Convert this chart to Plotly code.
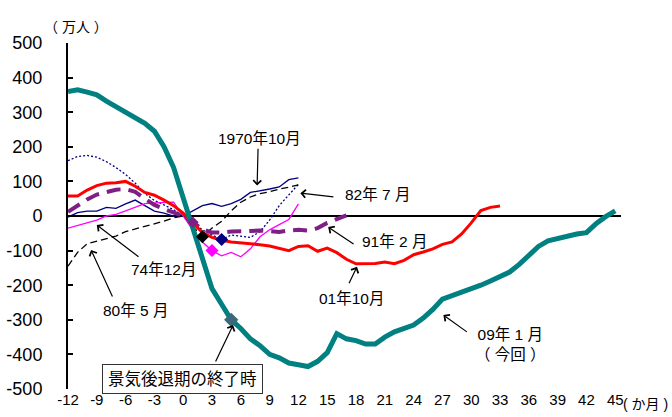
import plotly.graph_objects as go

# months from reference point (-12 .. 45)
month_start = -12

# series values (万人)
s1970_10 = [-3, 10, 14, 14, 25, 22, 35, 46, 30, 14, 8, 0, 0,
            15, 30, 36, 28, 36, 48, 68, 72, 78, 84, 105, 110]
s1974_12 = [-35, -28, -20, -12, 0, 5, 15, 25, 36, 38, 38, 40, 0,
            -40, -75, -100, -115, -105, -118, -95, -60, -40, -25, -10, 35]
s1980_05 = [-145, -105, -80, -72, -65, -58, -45, -38, -30, -22, -15, -5, 0,
            -30, -60, -35, -15, 15, 40, 55, 65, 70, 78, 83, 90]
s1982_07 = [160, 172, 175, 170, 157, 140, 120, 95, 65, 45, 32, 18, 0,
            -20, -40, -55, -68, -55, -58, -62, -45, -12, 30, 60, 92]
s1991_02 = [12, 30, 48, 62, 68, 76, 78, 70, 50, 32, 20, 10, 0,
            -18, -38, -48, -48, -45, -45, -43, -42, -45, -46, -42, -40,
            -42, -35, -20, -8, 2]
s2001_10 = [58, 58, 75, 88, 95, 96, 100, 86, 68, 60, 46, 30, 8,
            -20, -48, -62, -70, -75, -77, -80, -83, -87, -93, -100, -88,
            -86, -102, -93, -106, -125, -138, -138, -137, -133, -138, -128, -112,
            -104, -95, -82, -75, -52, -20, 16, 25, 29]
s2009_01 = [360, 365, 358, 350, 332, 315, 298, 283, 268, 245, 200, 140, 55,
            -40, -120, -210, -255, -300, -325, -355, -375, -400, -410, -425, -430,
            -435, -420, -395, -340, -355, -360, -370, -370, -350, -335, -325, -315,
            -295, -270, -240, -230, -222, -212, -200, -188, -175, -162, -140, -115,
            -88, -72, -65, -58, -52, -48, -22, -2, 15]

# month at which each recession ended (marker)
end_1974 = 3
end_1980 = 2
end_1982 = 4
end_1991 = 1
end_2009 = 5

x_ticks = list(range(-12, 46, 3))
y_ticks = list(range(-500, 501, 100))


def xs(vals):
    return list(range(month_start, month_start + len(vals)))


fig = go.Figure()

fig.add_trace(go.Scatter(x=xs(s1970_10), y=s1970_10, mode="lines",
                         line=dict(color="#000080", width=1.3)))
fig.add_trace(go.Scatter(x=xs(s1982_07), y=s1982_07, mode="lines",
                         line=dict(color="#000080", width=1.3, dash="2px,2px")))
fig.add_trace(go.Scatter(x=xs(s1980_05), y=s1980_05, mode="lines",
                         line=dict(color="black", width=1.3, dash="7px,4px")))
fig.add_trace(go.Scatter(x=xs(s1974_12), y=s1974_12, mode="lines",
                         line=dict(color="#FF00FF", width=1.3)))
fig.add_trace(go.Scatter(x=xs(s1991_02), y=s1991_02, mode="lines",
                         line=dict(color="#7F1F86", width=4, dash="14px,8px")))
fig.add_trace(go.Scatter(x=xs(s2001_10), y=s2001_10, mode="lines",
                         line=dict(color="#FF0000", width=3)))
fig.add_trace(go.Scatter(x=xs(s2009_01), y=s2009_01, mode="lines",
                         line=dict(color="#008080", width=5)))

# end-of-recession markers
for vals, m, col, sz in [(s1991_02, end_1991, "#7F1F86", 9),
                         (s1980_05, end_1980, "black", 10),
                         (s1974_12, end_1974, "#FF00FF", 10),
                         (s1982_07, end_1982, "#000080", 10),
                         (s2009_01, end_2009, "#3A6A7A", 11)]:
    fig.add_trace(go.Scatter(x=[m], y=[vals[m - month_start]], mode="markers",
                             marker=dict(symbol="diamond", color=col, size=sz)))

font_main = "Liberation Sans, Arial, Noto Sans CJK JP"
lab = dict(size=15.5, color="black", family=font_main)

texts = [
    ("1970年10月", 7.9, 225, "center"),
    ("82年 7 月", 16.6, 61, "left"),
    ("91年 2 月", 18.4, -75, "left"),
    ("01年10月", 17.5, -237, "center"),
    ("09年 1 月<br>（ 今回 ）", 34.1, -371, "center"),
    ("74年12月", -2.1, -156, "center"),
    ("80年 5 月", -5.0, -272, "center"),
]
for t, x, y, xa in texts:
    fig.add_annotation(x=x, y=y, text=t, showarrow=False, xanchor=xa,
                       font=lab)

arrows = [
    (7.7, 88, 7.8, 199),
    (12.2, 66, 15.8, 55),
    (15.1, -32, 17.9, -84),
    (18.1, -147, 17.2, -199),
    (27.1, -286, 29.7, -338),
    (-9.0, -26, -4.5, -121),
    (-9.6, -98, -7.3, -237),
    (5.2, -315, 3.3, -425),
]
for x, y, ax, ay in arrows:
    fig.add_annotation(x=x, y=y, ax=ax, ay=ay, axref="x", ayref="y",
                       text="", showarrow=True, arrowhead=4, arrowsize=1.3,
                       arrowwidth=1.2, arrowcolor="black")

fig.add_annotation(x=-0.1, y=-471, text="景気後退期の終了時", showarrow=False,
                   font=dict(size=16.5, color="black", family=font_main),
                   bordercolor="#333333", borderwidth=1, borderpad=5,
                   bgcolor="white")

fig.add_annotation(xref="paper", yref="paper", x=0.0145, y=1.0, yshift=16,
                   yanchor="middle", xanchor="center", text="（ 万人 ）",
                   showarrow=False,
                   font=dict(size=14, color="black", family=font_main))
fig.add_annotation(xref="paper", yref="paper", x=1.0, y=0, yshift=-15,
                   xanchor="left", yanchor="middle", text="( か月 )",
                   showarrow=False,
                   font=dict(size=14, color="black", family=font_main))

fig.update_xaxes(range=[-12, 45.6], tickvals=x_ticks,
                 ticktext=[str(v) for v in x_ticks], showgrid=False,
                 zeroline=False, showline=False, ticks="", automargin=False,
                 tickfont=dict(size=15, color="black", family=font_main))
fig.update_yaxes(range=[-500, 500], tickvals=y_ticks,
                 ticktext=[str(v) for v in y_ticks], showgrid=False,
                 zeroline=True, zerolinecolor="black", zerolinewidth=2,
                 showline=True, linecolor="black", linewidth=2,
                 ticks="inside", ticklen=5, tickwidth=1.5, tickcolor="black",
                 ticklabelstandoff=20, automargin=False,
                 tickfont=dict(size=18, color="black", family=font_main))

fig.update_layout(width=672, height=417, showlegend=False,
                  margin=dict(l=68, r=51, t=43, b=28),
                  plot_bgcolor="white", paper_bgcolor="white")

# remove the browser's default page margin so the chart sits at (0, 0)
fig.write_html("out.html", config={"displayModeBar": False},
               post_script="document.body.style.margin='0';")
